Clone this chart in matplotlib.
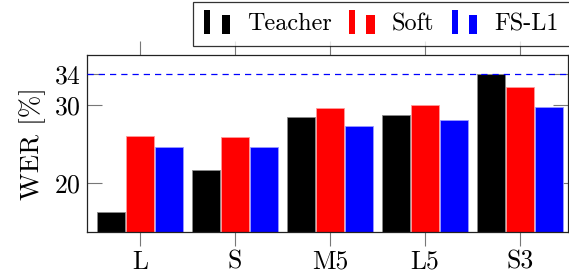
import matplotlib
matplotlib.use("Agg")
import matplotlib.pyplot as plt
import numpy as np
from matplotlib.legend_handler import HandlerBase
from matplotlib.patches import Rectangle

plt.rcParams['font.family'] = 'serif'
plt.rcParams['font.serif'] = ['cmr10', 'DejaVu Serif']
plt.rcParams['mathtext.fontset'] = 'cm'
plt.rcParams['axes.formatter.use_mathtext'] = True

categories = ['L', 'S', 'M5', 'L5', 'S3']
teacher = [16.2, 21.7, 28.5, 28.7, 34.0]
soft = [26.0, 25.9, 29.7, 30.0, 32.3]
fs_l1 = [24.6, 24.6, 27.3, 28.1, 29.8]
series_names = ['Teacher', 'Soft', 'FS-L1']
colors = ['black', 'red', 'blue']
edges = ['#8a8a8a', '#ff9a9a', '#9a9aff']
ref_line = 34


class TwoBarHandler(HandlerBase):
    def create_artists(self, legend, orig_handle, xdescent, ydescent,
                       width, height, fontsize, trans):
        c = orig_handle.get_facecolor()
        base = -ydescent - height * 0.2
        r1 = Rectangle((-xdescent, base), width * 0.24, height * 1.4,
                       facecolor=c, edgecolor='none', transform=trans)
        r2 = Rectangle((-xdescent + width * 0.68, base), width * 0.32, height * 1.1,
                       facecolor=c, edgecolor='none', transform=trans)
        return [r1, r2]


fig = plt.figure(figsize=(5.69, 2.75), dpi=100)
ax = fig.add_axes([0.1524, 0.1564, 0.9985 - 0.1524, 0.7989 - 0.1564])

x = np.arange(len(categories))
bw = 0.295
handles = []
for i, (vals, col, ec) in enumerate(zip([teacher, soft, fs_l1], colors, edges)):
    b = ax.bar(x + (i - 1) * 0.305, vals, bw, color=col, edgecolor=ec,
               linewidth=0.6, zorder=2)
    handles.append(b[0])

ax.axhline(ref_line, color='blue', linestyle=(0, (5, 4)), linewidth=0.9, zorder=3)

ax.set_xlim(-0.56, 4.51)
ax.set_ylim(13.63, 36.46)
ax.set_xticks(x)
ax.set_xticklabels(categories)
ax.set_yticks([20, 30, 34])
ax.tick_params(axis='x', direction='out', length=10, color='#777777',
               labelsize=18.5, top=True, pad=3)
ax.tick_params(axis='y', direction='in', length=11, color='#777777',
               labelsize=18.5, right=True, pad=4)
ax.set_ylabel('WER [%]', fontsize=19.5, labelpad=6)
for s in ax.spines.values():
    s.set_color('#222222')
    s.set_linewidth(0.9)

leg = fig.legend(handles, series_names, loc='upper left',
                 bbox_to_anchor=(0.3397, 0.992), ncol=3, fontsize=17.5,
                 handler_map={h: TwoBarHandler() for h in handles},
                 frameon=True, fancybox=False, edgecolor='black',
                 handlelength=1.05, handletextpad=0.72, columnspacing=0.7,
                 borderpad=0.45, borderaxespad=0)
leg.get_frame().set_linewidth(0.9)

fig.savefig('out.png', dpi=100)
